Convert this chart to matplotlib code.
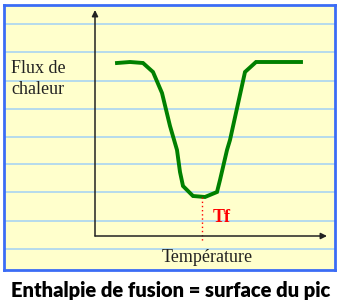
import numpy as np
import matplotlib.pyplot as plt

# courbe DSC (unites arbitraires : temperature / flux)
temp = [22, 35, 48, 58, 67, 75, 82, 85, 88, 98, 110, 122, 125, 132, 135, 150, 161, 206]
flux = [173, 174, 173, 164, 143, 110, 86, 64, 50, 40, 39, 44, 56, 86, 96, 164, 174, 174]
t_fusion = 107
label_y = 'Flux de\nchaleur'
label_x = 'Température'
label_tf = 'Tf'
caption = 'Enthalpie de fusion = surface du pic'

W, H = 341, 302
fig = plt.figure(figsize=(W / 100, H / 100), dpi=100)
fig.patch.set_facecolor('white')

# fond "papier ligne"
bg = fig.add_axes([4 / W, 1 - 270 / H, 331 / W, 265 / H])
bg.set_facecolor('#ffffcc')
bg.set_xlim(0, 1)
bg.set_ylim(270, 5)
for y in [24, 52, 81, 109, 137, 164, 192, 221, 249]:
    bg.axhline(y, color='#a9d4f2', lw=1.2)
bg.set_xticks([])
bg.set_yticks([])
for s in bg.spines.values():
    s.set_color('#3b6cf5')
    s.set_linewidth(2)

# axes du graphe
ax = fig.add_axes([95 / W, 1 - 236 / H, 232 / W, 226 / H])
ax.set_xlim(0, 232)
ax.set_ylim(0, 226)
ax.patch.set_alpha(0)
ax.axis('off')

arrow = dict(arrowstyle='-|>', color='#222222', lw=1.1, mutation_scale=9, shrinkA=0, shrinkB=0)
ax.annotate('', xy=(0, 226), xytext=(0, 0), arrowprops=arrow, annotation_clip=False)
ax.annotate('', xy=(232, 0), xytext=(0, 0), arrowprops=arrow, annotation_clip=False)

ax.plot(temp, flux, color='#008000', lw=2.8, solid_joinstyle='miter')
ax.plot([t_fusion, t_fusion], [39, -6], color='red', lw=1, ls=(0, (1, 2)), clip_on=False)
ax.text(t_fusion + 11, 19, label_tf, color='red', fontsize=13, fontweight='bold',
        family='Liberation Serif', ha='left', va='center')

fig.text(11 / W, 1 - 79 / H, label_y, fontsize=13, family='Liberation Serif',
         color='#222222', va='center', ha='left', linespacing=1.25)
fig.text(207 / W, 1 - 258 / H, label_x, fontsize=13, family='Liberation Serif',
         color='#222222', va='center', ha='center')
fig.text(0.5, 1 - 290 / H, caption, fontsize=14.5, fontweight='heavy', family='Lato',
         color='black', va='center', ha='center')

fig.savefig('out.png', dpi=100)
